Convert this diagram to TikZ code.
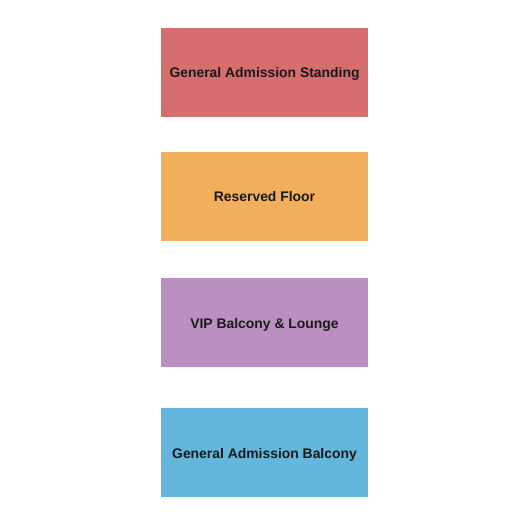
\documentclass[tikz,border=0pt]{standalone}
\usepackage{fontspec}
\setmainfont{Liberation Sans}
\definecolor{standred}{HTML}{D76E6E}
\definecolor{floororange}{HTML}{F2AE5A}
\definecolor{vippurple}{HTML}{BA90C0}
\definecolor{balcblue}{HTML}{64B6DC}
\definecolor{labeltext}{HTML}{1A1A1A}
\tikzset{
    section/.style = {rectangle, minimum width = 207pt, minimum height = 89pt,
        inner sep = 0pt, text depth = 0pt, text = labeltext,
        font = \fontsize{13.9}{16}\selectfont\bfseries}
}
\begin{document}
\begin{tikzpicture}[x = 1pt, y = 1pt]
            \useasboundingbox (0,0) rectangle (525,525);
            \node [section, fill = standred] (gastand) at (264.5,452.5) {General Admission Standing};
            \node [section, fill = floororange] (resfloor) at (264.5,328.5) {Reserved Floor};
            \node [section, fill = vippurple] (viplounge) at (264.5,202) {VIP Balcony \& Lounge};
            \node [section, fill = balcblue] (gabalc) at (264.5,72) {General Admission Balcony};
        \end{tikzpicture}
\end{document}
